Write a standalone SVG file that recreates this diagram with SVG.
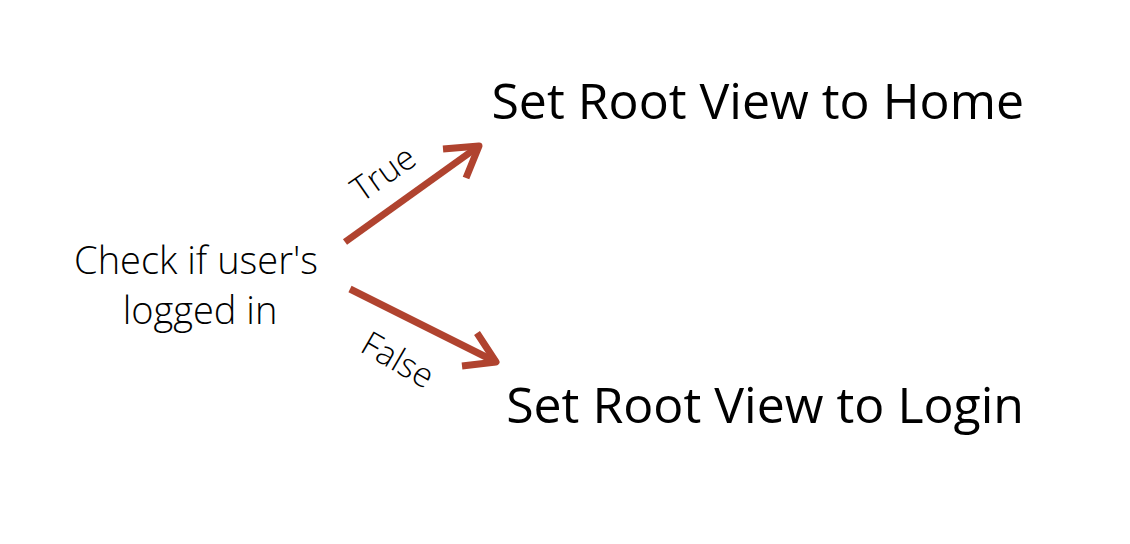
<svg xmlns="http://www.w3.org/2000/svg" width="1130" height="544" viewBox="0 0 1130 544">
<style>
.title{font-family:"Open Sans","Liberation Sans",sans-serif;font-size:50px;fill:#000;}
.lbl{font-family:"Open Sans","Liberation Sans",sans-serif;font-weight:300;font-size:38px;fill:#000;}
.edge{font-family:"Open Sans","Liberation Sans",sans-serif;font-weight:300;font-size:34px;fill:#000;}
.arr{fill:none;stroke:#B0432F;stroke-width:7;stroke-linejoin:round;stroke-linecap:butt;}
</style>
<rect width="1130" height="544" fill="#fff"/>
<g id="check">
<text class="lbl" x="196" y="274" text-anchor="middle">Check if user's</text>
<text class="lbl" x="200" y="324" text-anchor="middle">logged in</text>
</g>
<g id="home">
<text class="title" x="1024" y="119" text-anchor="end">Set Root View to Home</text>
</g>
<g id="login">
<text class="title" x="1024" y="423" text-anchor="end">Set Root View to Login</text>
</g>
<g id="connectors">
<path class="arr" d="M345,242 L479,146"/>
<path class="arr" d="M443,149 L479,146 L466,178"/>
<text class="edge" transform="translate(390,183) rotate(-35)" text-anchor="middle">True</text>
<path class="arr" d="M350,289 L496,362"/>
<path class="arr" d="M477,333 L496,362 L462,366"/>
<text class="edge" transform="translate(392,370) rotate(30)" text-anchor="middle">False</text>
</g>
</svg>
